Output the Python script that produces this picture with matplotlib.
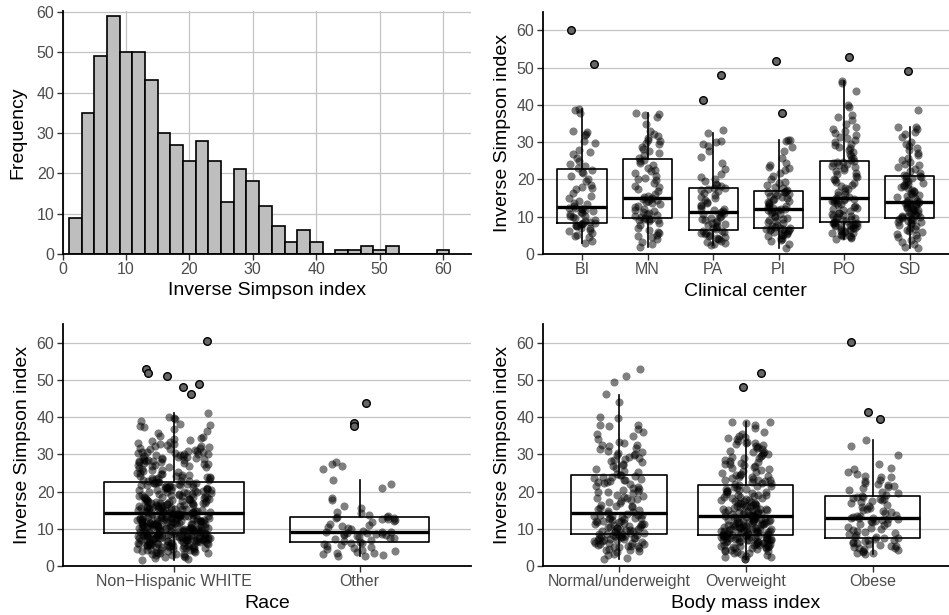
import matplotlib
matplotlib.use('Agg')
import matplotlib.pyplot as plt
import numpy as np

plt.rcParams['font.family'] = ['Liberation Sans', 'DejaVu Sans']

# ---- histogram: bins of width 2 starting at 1
bin_start = 1
bin_width = 2
hist_counts = [9, 35, 49, 59, 50, 50, 43, 30, 27, 23, 28, 23, 13, 21, 18,
               12, 7, 3, 6, 3, 0, 1, 1, 2, 1, 2, 0, 0, 0, 1]

# ---- clinical center
center_labels = ['BI', 'MN', 'PA', 'PI', 'PO', 'SD']
center_q1 = [8.4, 9.6, 6.4, 7.0, 8.6, 9.6]
center_med = [12.5, 15.0, 11.25, 12.1, 14.9, 13.9]
center_q3 = [22.7, 25.4, 17.8, 16.9, 25.0, 21.0]
center_lo = [2.9, 2.0, 2.4, 1.5, 3.9, 1.7]
center_hi = [39.0, 37.9, 32.5, 30.5, 46.4, 34.0]

BI = [2.9, 3.4, 4.5, 4.8, 5.2, 5.6, 6.1, 6.5, 6.9, 7.1, 7.4, 7.6, 7.8, 8.0, 8.1, 8.2, 8.3,
      8.6, 8.9, 9.2, 9.6, 9.9, 10.1, 10.3, 10.6, 10.9, 11.2, 11.5, 11.8, 12.0, 12.2, 12.3, 12.4,
      12.8, 13.3, 13.7, 14.2, 15.0, 15.6, 16.4, 17.4, 17.7, 17.9, 18.6, 19.6, 20.2, 21.0, 21.6, 22.1, 22.6,
      23.1, 23.5, 24.2, 25.0, 25.8, 26.9, 27.4, 27.8, 29.9, 30.2, 31.9, 32.2, 32.6, 33.0, 37.9, 38.6, 39.0]
MN = [2.0, 2.6, 3.3, 3.9, 4.5, 4.9, 5.2, 5.5, 5.8, 6.4, 7.0, 7.8, 8.4, 8.9, 9.0, 9.2, 9.3, 9.4, 9.5,
      9.7, 9.9, 10.2, 10.5, 10.8, 11.0, 11.3, 11.6, 11.9, 12.2, 12.5, 12.9, 13.3, 13.6, 13.9, 14.2, 14.5, 14.7, 14.8, 14.9,
      15.2, 15.6, 16.0, 16.8, 17.5, 17.9, 18.3, 19.0, 19.8, 20.0, 20.4, 21.0, 21.8, 22.2, 22.6, 23.0, 23.8, 24.5, 24.9, 25.2,
      25.8, 26.5, 27.0, 27.6, 28.1, 28.8, 29.5, 29.9, 30.2, 30.6, 31.0, 31.6, 32.2, 33.0, 35.0, 36.8, 37.2, 37.6, 37.9]
PA = [2.4, 2.8, 3.0, 3.3, 3.6, 3.9, 4.1, 4.3, 4.6, 4.8, 5.0, 5.3, 5.5, 5.7, 5.9, 6.1, 6.3,
      6.6, 6.9, 7.2, 7.5, 7.8, 8.0, 8.2, 8.5, 8.8, 9.1, 9.4, 9.7, 10.0, 10.3, 10.6, 10.8, 11.0, 11.2,
      11.4, 11.7, 12.0, 12.4, 12.8, 13.2, 13.6, 14.0, 14.5, 14.9, 15.3, 15.8, 16.3, 16.8, 17.2, 17.5, 17.7, 17.8,
      18.2, 18.6, 18.9, 19.5, 20.0, 20.6, 21.5, 22.8, 24.5, 26.0, 27.6, 29.0, 29.6, 30.0, 30.2, 32.5, 33.2]
PI = [1.5, 2.8, 3.5, 3.8, 4.1, 4.4, 4.7, 5.0, 5.2, 5.4, 5.6, 5.8, 6.0, 6.2, 6.4, 6.5, 6.6, 6.7, 6.8, 6.9,
      7.1, 7.3, 7.6, 7.9, 8.2, 8.5, 8.8, 9.1, 9.4, 9.7, 10.0, 10.3, 10.6, 10.9, 11.2, 11.5, 11.7, 11.9, 12.0, 12.1,
      12.3, 12.5, 12.8, 13.0, 13.3, 13.6, 13.9, 14.2, 14.5, 14.8, 15.0, 15.3, 15.6, 15.9, 16.1, 16.3, 16.5, 16.6, 16.7, 16.8,
      17.2, 17.6, 18.0, 18.5, 19.0, 19.3, 20.0, 21.0, 21.8, 22.5, 23.0, 23.3, 23.8, 24.5, 25.8, 27.5, 28.8, 30.5, 30.6, 30.4]
PO = [3.9, 4.2, 4.5, 4.7, 4.9, 5.1, 5.3, 5.5, 5.7, 5.9, 6.1, 6.3, 6.5, 6.7, 6.9, 7.0, 7.2, 7.4, 7.5, 7.6,
      7.7, 7.8, 7.9, 8.0, 8.2, 8.3, 8.4, 8.5,
      8.7, 8.9, 9.1, 9.3, 9.5, 9.7, 9.9, 10.1, 10.3, 10.5, 10.7, 10.9, 11.1, 11.4, 11.7, 12.0, 12.3, 12.6, 12.9, 13.2,
      13.5, 13.8, 14.0, 14.2, 14.4, 14.5, 14.6, 14.7, 14.8,
      15.1, 15.4, 15.8, 16.2, 16.6, 17.0, 17.4, 17.8, 18.2, 18.6, 19.0, 19.4, 19.8, 20.2, 20.6, 21.0, 21.4, 21.8, 22.2,
      22.6, 23.0, 23.3, 23.6, 23.9, 24.2, 24.4, 24.6, 24.8, 24.9,
      25.3, 25.8, 26.3, 26.8, 27.3, 27.8, 28.3, 28.8, 29.2, 29.6, 30.0, 30.5, 31.0, 31.5, 32.0, 32.5, 33.0, 33.5, 34.0,
      35.0, 36.0, 36.8, 37.2, 39.5, 40.0, 43.8, 46.0, 46.4]
SD = [1.7, 2.0, 2.6, 3.2, 3.7, 4.2, 4.6, 5.0, 5.4, 5.8, 6.2, 6.5, 6.8, 7.1, 7.4, 7.7, 8.0, 8.3, 8.5, 8.7,
      8.9, 9.1, 9.3, 9.4, 9.5,
      9.7, 9.8, 9.9, 10.1, 10.3, 10.5, 10.7, 10.9, 11.1, 11.3, 11.5, 11.7, 11.9, 12.1, 12.3, 12.5, 12.7, 12.9, 13.1, 13.3,
      13.5, 13.6, 13.7, 13.8, 13.85,
      14.0, 14.3, 14.6, 14.9, 15.2, 15.5, 15.8, 16.1, 16.4, 16.7, 17.0, 17.3, 17.6, 17.9, 18.2, 18.5, 18.8, 19.1, 19.4,
      19.7, 20.0, 20.3, 20.6, 20.8, 20.9,
      21.3, 21.8, 22.3, 22.8, 23.3, 23.8, 24.2, 24.6, 25.2, 25.8, 26.5, 27.2, 27.8, 28.4, 28.9, 29.5, 30.1, 31.5, 32.2,
      32.8, 33.4, 34.0, 34.0, 38.6]
center_points = [BI, MN, PA, PI, PO, SD]
center_outliers = [[60.2, 51.0], [], [48.1, 41.2], [51.7, 37.9], [52.9], [49.2]]

# ---- race
race_labels = ['Non\u2212Hispanic WHITE', 'Other']
race_q1 = [8.75, 6.4]
race_med = [14.1, 9.0]
race_q3 = [22.6, 13.2]
race_lo = [1.6, 2.7]
race_hi = [41.2, 23.0]

NHW = [1.6, 1.9, 2.2, 2.4, 2.5, 2.8, 2.9, 3.0, 3.2, 3.3, 3.3, 3.5, 3.6, 3.6, 3.8, 3.9, 4.0, 4.0, 4.2, 4.3,
       4.3, 4.4, 4.6, 4.6, 4.7, 4.8, 4.9, 5.0, 5.0, 5.1, 5.2, 5.2, 5.3, 5.4, 5.5, 5.5, 5.6, 5.6, 5.7, 5.8,
       5.8, 5.9, 6.0, 6.0, 6.1, 6.1, 6.2, 6.3, 6.3, 6.4, 6.4, 6.5, 6.6, 6.6, 6.7, 6.7, 6.8, 6.9, 6.9, 7.0,
       7.0, 7.1, 7.1, 7.2, 7.2, 7.3, 7.3, 7.4, 7.4, 7.5, 7.5, 7.6, 7.6, 7.7, 7.7, 7.8, 7.8, 7.9, 7.9, 8.0,
       8.0, 8.1, 8.1, 8.2, 8.2, 8.3, 8.3, 8.4, 8.4, 8.5, 8.5, 8.6, 8.6, 8.7, 8.7, 7.05, 6.45, 5.75, 4.45, 3.7,
       7.65, 8.15, 6.85, 5.35, 7.35, 8.45, 6.25, 7.85, 5.95, 8.05,
       8.8, 8.8, 8.9, 9.0, 9.0, 9.1, 9.1, 9.2, 9.3, 9.3, 9.4, 9.5, 9.5, 9.6, 9.7, 9.7, 9.8, 9.9, 9.9, 10.0,
       10.0, 10.1, 10.2, 10.2, 10.3, 10.4, 10.4, 10.5, 10.6, 10.6, 10.7, 10.8, 10.8, 10.9, 11.0, 11.0, 11.1, 11.2, 11.2, 11.3,
       11.4, 11.4, 11.5, 11.6, 11.6, 11.7, 11.8, 11.8, 11.9, 12.0, 12.0, 12.1, 12.2, 12.2, 12.3, 12.4, 12.4, 12.5, 12.6, 12.6,
       12.7, 12.8, 12.8, 12.9, 13.0, 13.0, 13.1, 13.2, 13.2, 13.3, 13.4, 13.4, 13.5, 13.6, 13.6, 13.7, 13.8, 13.8, 13.9, 14.0,
       14.0, 14.05, 9.15, 9.65, 10.15, 10.55, 10.95, 11.35, 11.75, 12.15, 12.55, 12.95, 13.35, 13.75, 9.45, 9.85, 10.35, 10.75,
       11.15, 11.55, 11.95, 12.35, 12.75, 13.15, 13.55, 13.95, 8.95, 10.45, 11.65, 12.85,
       14.2, 14.3, 14.3, 14.4, 14.5, 14.6, 14.6, 14.7, 14.8, 14.9, 14.9, 15.0, 15.1, 15.2, 15.2, 15.3, 15.4, 15.5, 15.5, 15.6,
       15.7, 15.8, 15.8, 15.9, 16.0, 16.1, 16.2, 16.2, 16.3, 16.4, 16.5, 16.6, 16.6, 16.7, 16.8, 16.9, 17.0, 17.0, 17.1, 17.2,
       17.3, 17.4, 17.4, 17.5, 17.6, 17.7, 17.8, 17.9, 18.0, 18.1, 18.2, 18.3, 18.4, 18.5, 18.6, 18.7, 18.8, 18.9, 19.0, 19.1,
       19.2, 19.3, 19.4, 19.5, 19.6, 19.8, 19.9, 20.0, 20.1, 20.2, 20.3, 20.4, 20.5, 20.6, 20.7, 20.8, 20.9, 21.0, 21.1, 21.2,
       21.3, 21.4, 21.5, 21.6, 21.7, 21.8, 21.9, 22.0, 22.1, 22.2, 22.3, 22.4, 22.5, 22.5, 14.45, 15.05, 15.65, 16.25, 16.85, 17.45,
       18.05, 18.65, 19.25, 19.85, 20.45, 21.05, 21.65, 22.25, 14.75, 15.35,
       22.7, 22.8, 22.9, 23.0, 23.1, 23.2, 23.4, 23.5, 23.6, 23.7, 23.8, 23.9, 24.0, 24.1, 24.2, 24.4, 24.5, 24.6, 24.8, 24.9,
       25.1, 25.3, 25.5, 25.7, 25.9, 26.1, 26.3, 26.5, 26.7, 26.8, 26.9,
       27.1, 27.2, 27.3, 27.5, 27.6, 27.7, 27.9, 28.0, 28.1, 28.2, 28.3, 28.4, 28.5, 28.6, 28.7, 28.8, 28.9, 29.0,
       29.1, 29.2, 29.4, 29.5, 29.6, 29.8, 29.9, 30.0, 30.1, 30.2, 30.3, 30.4, 30.5, 30.6, 30.7, 30.8, 30.9,
       31.1, 31.3, 31.5, 31.6, 31.8, 32.0, 32.2, 32.3, 32.5, 32.7, 32.8, 32.9,
       33.2, 33.5, 33.8, 34.1, 34.3, 34.6, 34.9, 35.6, 36.2, 36.8, 37.2, 37.6, 37.8, 38.2, 38.9,
       39.4, 39.8, 40.1, 41.2]
OTHER = [2.7, 2.8, 3.0, 3.3, 3.5, 3.6, 3.8, 4.0, 4.2, 4.5, 4.8, 5.0, 5.3, 5.6, 5.8, 6.1, 6.3,
         6.5, 6.8, 7.0, 7.3, 7.5, 7.6, 7.8, 8.0, 8.2, 8.3, 8.5, 8.6, 8.7, 8.8, 8.9, 9.0, 9.0,
         9.2, 9.5, 9.8, 10.1, 10.4, 10.8, 11.1, 11.4, 11.7, 12.0, 12.3, 12.5, 12.7, 12.9, 13.0, 13.1, 13.2,
         13.4, 13.6, 14.1, 14.5, 15.6, 16.2, 17.6, 18.2, 20.9, 22.0, 23.2, 26.0, 26.9, 27.5, 27.9]
race_points = [NHW, OTHER]
race_outliers = [[60.3, 52.8, 51.7, 51.0, 49.0, 48.0, 46.1], [43.75, 38.5, 37.5]]

# ---- body mass index
bmi_labels = ['Normal/underweight', 'Overweight', 'Obese']
bmi_q1 = [8.6, 8.3, 7.6]
bmi_med = [14.3, 13.3, 13.0]
bmi_q3 = [24.55, 21.8, 18.8]
bmi_lo = [1.8, 1.8, 3.2]
bmi_hi = [46.0, 38.75, 33.8]

NORMAL = [1.8, 2.2, 2.9, 3.3, 3.7, 4.0, 4.2, 4.4, 4.6, 4.8, 5.0, 5.2, 5.4, 5.5, 5.7, 5.9, 6.0, 6.2, 6.3, 6.5,
          6.6, 6.8, 6.9, 7.0, 7.1, 7.2, 7.3, 7.4, 7.5, 7.6, 7.7, 7.8, 7.9, 8.0, 8.1, 8.2, 8.3, 8.4, 8.5, 8.5, 6.1, 5.3,
          8.7, 8.8, 8.9, 9.0, 9.2, 9.3, 9.4, 9.6, 9.7, 9.8, 10.0, 10.1, 10.2, 10.4, 10.5, 10.6, 10.8, 10.9, 11.0, 11.2,
          11.3, 11.4, 11.6, 11.7, 11.8, 12.0, 12.1, 12.2, 12.4, 12.5, 12.6, 12.8, 12.9, 13.0, 13.2, 13.3, 13.4, 13.6,
          13.7, 13.8, 14.0, 14.2,
          14.5, 14.8, 15.0, 15.3, 15.6, 15.9, 16.2, 16.5, 16.8, 17.1, 17.4, 17.7, 18.0, 18.3, 18.6, 18.9, 19.2, 19.5,
          19.8, 20.1, 20.4, 20.7, 21.0, 21.3, 21.6, 21.9, 22.2, 22.5, 22.8, 23.0, 23.2, 23.4, 23.6, 23.8, 24.0, 24.2,
          24.4, 24.5, 16.0, 18.2, 20.0, 22.6,
          24.8, 25.2, 25.6, 26.0, 26.4, 26.8, 27.2, 27.5, 27.8, 28.1, 28.4, 28.8, 29.1, 29.4, 29.7, 30.0, 30.3, 30.6,
          31.0, 31.4, 31.8, 32.2, 32.6, 33.0, 33.4, 34.0, 35.0, 35.5, 36.0, 36.8, 37.5, 37.8, 38.0, 39.8, 40.0, 44.0,
          46.2, 49.3, 51.0, 53.0, 29.9, 32.4]
OVERWEIGHT = [1.8, 2.0, 2.3, 2.5, 2.7, 3.0, 3.2, 3.4, 3.6, 3.8, 4.0, 4.1, 4.3, 4.4, 4.6, 4.7, 4.9, 5.0, 5.1, 5.2,
              5.3, 5.4, 5.5, 5.6, 5.7, 5.8, 5.9, 6.0, 6.1, 6.2, 6.3, 6.4, 6.5, 6.6, 6.7, 6.8, 6.9, 7.0, 7.05, 7.1,
              7.2, 7.25, 7.3, 7.4, 7.45, 7.5, 7.6, 7.65, 7.7, 7.8, 7.85, 7.9, 8.0, 8.05, 8.1, 8.15, 8.2, 8.25, 6.35, 5.75,
              4.85, 6.95,
              8.35, 8.4, 8.5, 8.55, 8.6, 8.7, 8.8, 8.85, 8.9, 9.0, 9.1, 9.15, 9.2, 9.3, 9.4, 9.45, 9.5, 9.6, 9.7, 9.75,
              9.8, 9.9, 10.0, 10.1, 10.2, 10.3, 10.4, 10.5, 10.6, 10.7, 10.8, 10.9, 11.0, 11.1, 11.2, 11.3, 11.4, 11.5,
              11.6, 11.7, 11.8, 11.9, 12.0, 12.1, 12.2, 12.3, 12.4, 12.5, 12.6, 12.7, 12.8, 12.9, 13.0, 13.1, 13.2, 13.25,
              10.05, 10.55, 11.05, 11.55, 12.05, 12.55,
              13.4, 13.5, 13.6, 13.7, 13.8, 13.9, 14.0, 14.1, 14.2, 14.4, 14.5, 14.6, 14.8, 14.9, 15.0, 15.2, 15.3, 15.4,
              15.6, 15.7, 15.8, 16.0, 16.1, 16.2, 16.4, 16.5, 16.6, 16.8, 16.9, 17.0, 17.2, 17.4, 17.6, 17.8, 18.0, 18.2,
              18.4, 18.6, 18.8, 19.0, 19.2, 19.4, 19.6, 19.8, 20.0, 20.2, 20.4, 20.6, 20.8, 21.0, 21.2, 21.4, 21.6, 21.7,
              14.3, 15.1, 15.9, 16.7, 17.5, 18.3, 19.1, 20.1,
              22.0, 22.2, 22.4, 22.6, 22.8, 23.0, 23.2, 23.4, 23.6, 23.8, 24.0, 24.2, 24.4, 24.7, 25.0, 25.3, 25.6, 25.9,
              26.2, 26.5, 26.8, 27.1, 27.4, 27.7, 28.0, 28.3, 28.6, 28.9, 29.2, 29.5, 29.8, 30.1, 30.4, 30.7, 31.0, 31.3,
              31.6, 31.9, 32.2, 32.5, 32.8, 33.1, 33.4, 33.7, 34.0, 34.3, 34.6, 35.0, 35.5, 36.0, 37.0, 37.8, 38.6, 38.7,
              38.3, 23.1, 24.5, 26.0, 27.5, 29.0, 30.5, 33.0]
OBESE = [3.2, 3.4, 3.6, 3.8, 4.0, 4.2, 4.5, 4.7, 4.9, 5.1, 5.3, 5.5, 5.7, 5.9, 6.1, 6.3, 6.5, 6.7, 6.9, 7.1, 7.3, 7.4, 7.5,
         7.7, 7.9, 8.2, 8.5, 8.8, 9.1, 9.4, 9.7, 10.0, 10.3, 10.6, 10.9, 11.2, 11.5, 11.8, 12.0, 12.2, 12.4, 12.6, 12.7,
         12.8, 12.9, 12.95,
         13.1, 13.3, 13.5, 13.8, 14.1, 14.4, 14.7, 15.0, 15.3, 15.6, 15.9, 16.2, 16.5, 16.8, 17.1, 17.4, 17.7, 17.9,
         18.1, 18.3, 18.5, 18.6, 18.7,
         19.0, 19.5, 20.0, 20.5, 21.0, 21.3, 21.6, 22.0, 22.3, 22.7, 23.2, 23.8, 24.2, 24.7, 25.2, 26.0, 26.4, 27.5,
         29.8, 32.2, 33.8, 21.8, 24.0]
bmi_points = [NORMAL, OVERWEIGHT, OBESE]
bmi_outliers = [[], [51.7, 48.1], [60.2, 41.3, 39.4]]

GRID = '#c4c4c4'
TICKLAB = '#4d4d4d'

rng = np.random.default_rng(7)  # only for horizontal jitter


def style(ax):
    for s in ['top', 'right']:
        ax.spines[s].set_visible(False)
    for s in ['left', 'bottom']:
        ax.spines[s].set_linewidth(1.3)
        ax.spines[s].set_color('black')
    ax.tick_params(length=4, width=1.0, color='#333333', labelcolor=TICKLAB,
                   labelsize=11.5, pad=2)
    ax.set_axisbelow(True)


def boxpanel(ax, labels, q1, med, q3, lo, hi, points, outliers, xlabel):
    pos = np.arange(1, len(labels) + 1)
    ax.yaxis.grid(True, color=GRID, lw=0.9)
    for i, vals in enumerate(points):
        x = pos[i] + rng.uniform(-0.2, 0.2, len(vals))
        ax.scatter(x, vals, s=34, color='black', alpha=0.5, lw=0, zorder=2)
        if outliers[i]:
            xo = pos[i] + rng.uniform(-0.2, 0.2, len(outliers[i]))
            ax.scatter(xo, outliers[i], s=30, facecolor='#666666', edgecolor='black',
                       lw=1.0, zorder=4)
    stats = []
    for i in range(len(labels)):
        stats.append({'med': med[i], 'q1': q1[i], 'q3': q3[i],
                      'whislo': lo[i], 'whishi': hi[i], 'fliers': []})
    ax.bxp(stats, positions=pos, widths=0.75, showfliers=False, showcaps=False,
           boxprops=dict(color='black', lw=1.2),
           whiskerprops=dict(color='black', lw=1.2),
           medianprops=dict(color='black', lw=2.4, solid_capstyle='butt'),
           zorder=3)
    ax.set_xlim(0.4, len(labels) + 0.6)
    ax.set_ylim(0, 65)
    ax.set_yticks(range(0, 61, 10))
    ax.set_xticks(pos)
    ax.set_xticklabels(labels)
    style(ax)
    ax.set_xlabel(xlabel, fontsize=14, labelpad=4)
    ax.set_ylabel('Inverse Simpson index', fontsize=14, labelpad=4)


fig = plt.figure(figsize=(9.49, 6.15), dpi=100)

ax1 = fig.add_axes([0.0661, 0.587, 0.430, 0.395])
edges = bin_start + bin_width * np.arange(len(hist_counts))
ax1.grid(True, color=GRID, lw=0.9)
ax1.bar(edges, hist_counts, width=bin_width, align='edge', color='#bebebe',
        edgecolor='black', lw=1.2, zorder=2)
ax1.set_xlim(0, 64.4)
ax1.set_ylim(0, 60.2)
ax1.set_xticks(range(0, 61, 10))
ax1.set_yticks(range(0, 61, 10))
style(ax1)
ax1.set_xlabel('Inverse Simpson index', fontsize=14, labelpad=3.5)
ax1.set_ylabel('Frequency', fontsize=14, labelpad=7)

ax2 = fig.add_axes([0.5719, 0.587, 0.4281, 0.394])
boxpanel(ax2, center_labels, center_q1, center_med, center_q3, center_lo, center_hi,
         center_points, center_outliers, 'Clinical center')

ax3 = fig.add_axes([0.0661, 0.0797, 0.430, 0.3935])
boxpanel(ax3, race_labels, race_q1, race_med, race_q3, race_lo, race_hi,
         race_points, race_outliers, 'Race')

ax4 = fig.add_axes([0.5719, 0.0797, 0.4281, 0.3935])
boxpanel(ax4, bmi_labels, bmi_q1, bmi_med, bmi_q3, bmi_lo, bmi_hi,
         bmi_points, bmi_outliers, 'Body mass index')

fig.savefig('out.png', dpi=100)
